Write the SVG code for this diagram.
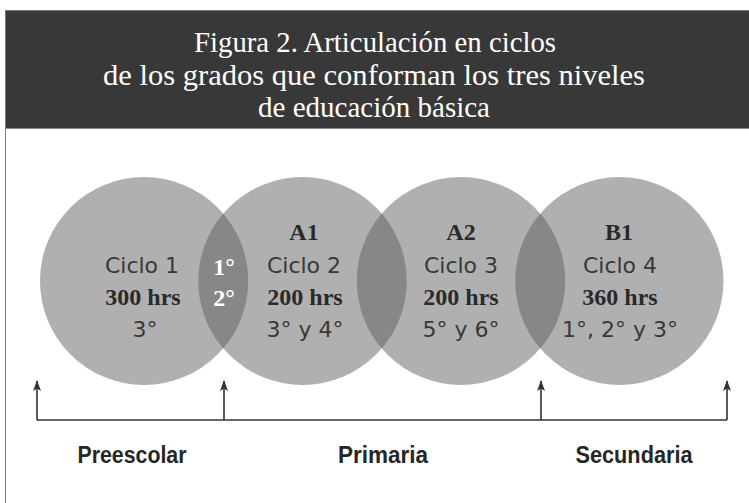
<svg xmlns="http://www.w3.org/2000/svg" width="749" height="503" viewBox="0 0 749 503">
<style>
.title{font-family:"Liberation Serif","DejaVu Serif",serif;font-size:29px;fill:#ffffff;text-anchor:middle}
.circle{fill:#b0b0b0}
.lens{fill:#878787}
.ciclo{font-family:"DejaVu Sans","Liberation Sans",sans-serif;font-size:22px;fill:#383838;text-anchor:middle}
.hrs{font-family:"Liberation Serif","DejaVu Serif",serif;font-size:24px;font-weight:bold;fill:#2a2a2a;text-anchor:middle}
.lenstxt{font-family:"Liberation Serif","DejaVu Serif",serif;font-size:24px;font-weight:bold;fill:#ffffff;text-anchor:middle}
.level{font-family:"Liberation Sans Narrow","Liberation Sans",sans-serif;font-size:24px;font-weight:bold;fill:#262626;text-anchor:middle}
.conn{stroke:#333333;stroke-width:1.6;fill:none}
</style>
<defs>
<marker id="arrow" viewBox="0 0 11 8" refX="10" refY="4" markerWidth="11" markerHeight="8" markerUnits="userSpaceOnUse" orient="auto">
<path d="M0,0 L11,4 L0,8 L2.5,4 Z" fill="#333333"/>
</marker>
</defs>
<rect x="0" y="0" width="749" height="503" fill="#ffffff"/>
<g id="frame">
<rect x="5.5" y="10.5" width="760" height="520" fill="none" stroke="#7a7a7a" stroke-width="1"/>
<rect x="6" y="11" width="743" height="117" fill="#383838"/>
<line x1="6" y1="128.5" x2="749" y2="128.5" stroke="#8a8a8a" stroke-width="1"/>
</g>
<g id="title">
<text class="title" x="375" y="52" textLength="362" lengthAdjust="spacingAndGlyphs">Figura 2. Articulación en ciclos</text>
<text class="title" x="374" y="85" textLength="542" lengthAdjust="spacingAndGlyphs">de los grados que conforman los tres niveles</text>
<text class="title" x="374" y="117" textLength="232" lengthAdjust="spacingAndGlyphs">de educación básica</text>
</g>
<g id="ciclo1">
<circle class="circle" cx="144" cy="281" r="104"/>
<text class="ciclo" x="142" y="273">Ciclo 1</text>
<text class="hrs" x="143" y="305">300 hrs</text>
<text class="ciclo" x="145" y="337">3°</text>
</g>
<g id="ciclo2">
<circle class="circle" cx="302.5" cy="281" r="104"/>
<text class="hrs" x="304" y="240">A1</text>
<text class="ciclo" x="304" y="273">Ciclo 2</text>
<text class="hrs" x="305" y="305">200 hrs</text>
<text class="ciclo" x="305" y="337">3° y 4°</text>
</g>
<g id="ciclo3">
<circle class="circle" cx="461" cy="281" r="104"/>
<text class="hrs" x="461" y="240">A2</text>
<text class="ciclo" x="461" y="273">Ciclo 3</text>
<text class="hrs" x="461" y="305">200 hrs</text>
<text class="ciclo" x="461" y="337">5° y 6°</text>
</g>
<g id="ciclo4">
<circle class="circle" cx="619.5" cy="281" r="104"/>
<text class="hrs" x="619" y="240">B1</text>
<text class="ciclo" x="620" y="273">Ciclo 4</text>
<text class="hrs" x="620" y="305">360 hrs</text>
<text class="ciclo" x="620" y="337">1°, 2° y 3°</text>
</g>
<g id="overlaps">
<path class="lens" d="M223.25,213.4 A104,104 0 0,1 223.25,348.6 A104,104 0 0,1 223.25,213.4 Z"/>
<path class="lens" d="M381.75,213.4 A104,104 0 0,1 381.75,348.6 A104,104 0 0,1 381.75,213.4 Z"/>
<path class="lens" d="M540.25,213.4 A104,104 0 0,1 540.25,348.6 A104,104 0 0,1 540.25,213.4 Z"/>
<text class="lenstxt" x="224" y="275">1°</text>
<text class="lenstxt" x="224" y="306">2°</text>
</g>
<g id="connectors">
<path class="conn" d="M37,420 L727,420"/>
<line class="conn" x1="37" y1="420" x2="37" y2="381" marker-end="url(#arrow)"/>
<line class="conn" x1="224" y1="420" x2="224" y2="381" marker-end="url(#arrow)"/>
<line class="conn" x1="541" y1="420" x2="541" y2="381" marker-end="url(#arrow)"/>
<line class="conn" x1="727" y1="420" x2="727" y2="381" marker-end="url(#arrow)"/>
</g>
<g id="levels">
<text class="level" x="132" y="463" textLength="109" lengthAdjust="spacingAndGlyphs">Preescolar</text>
<text class="level" x="383" y="463" textLength="90" lengthAdjust="spacingAndGlyphs">Primaria</text>
<text class="level" x="634" y="463" textLength="117" lengthAdjust="spacingAndGlyphs">Secundaria</text>
</g>
</svg>
